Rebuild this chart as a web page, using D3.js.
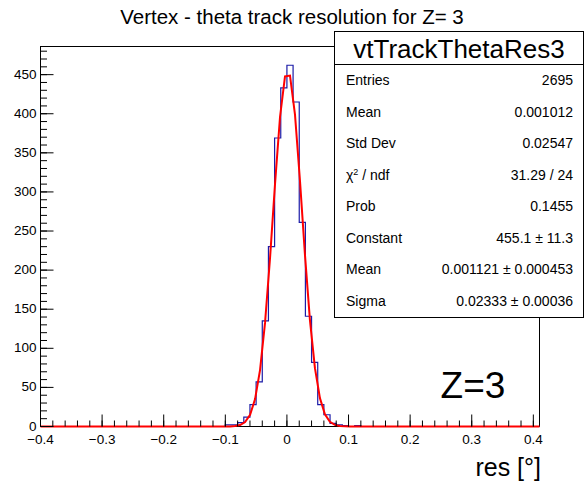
<!DOCTYPE html>
<html>
<head>
<meta charset="utf-8">
<script src="https://cdn.jsdelivr.net/npm/d3@7"></script>
<style>
  body { margin: 0; background: #fff; }
  text { font-family: "Liberation Sans", Arial, Helvetica, sans-serif; fill: #000; }
</style>
</head>
<body>
<script>
// histogram: bins of 0.01 from -0.40 to 0.41, only non-empty bins listed (lower edge -> count)
var binLow = [-0.10, -0.09, -0.08, -0.07, -0.06, -0.05, -0.04, -0.03, -0.02, -0.01,
              0.00, 0.01, 0.02, 0.03, 0.04, 0.05, 0.06, 0.07, 0.08, 0.09, 0.10, 0.11];
var counts = [2, 2, 5, 12, 28, 57, 135, 230, 369, 433,
              462, 415, 261, 141, 82, 28, 15, 4, 2, 1, 0, 1];

// gaussian fit parameters, as printed in the stat box
var fitConstant = [455.1];
var fitMean = [0.001121];
var fitSigma = [0.02333];

var xTicks = [-0.4, -0.3, -0.2, -0.1, 0, 0.1, 0.2, 0.3, 0.4];
var yTicks = [0, 50, 100, 150, 200, 250, 300, 350, 400, 450];

var statLabels = ["Entries", "Mean", "Std Dev", "χ2 / ndf", "Prob", "Constant", "Mean", "Sigma"];
var statValues = ["2695", "0.001012", "0.02547", "31.29 / 24", "0.1455",
                  "455.1 ± 11.3", "0.001121 ± 0.000453", "0.02333 ± 0.00036"];

var width = 585, height = 482;
var frame = {left: 40.5, right: 539.5, top: 46.5, bottom: 426.5};

var svg = d3.select('body').append('svg')
    .attr('width', width)
    .attr('height', height);

var x = d3.scaleLinear().domain([-0.4, 0.41]).range([frame.left, frame.right]);
var y = d3.scaleLinear().domain([0, 486]).range([frame.bottom, frame.top]);

// full bin list
var binW = 0.01;
var bins = [];
for (var i = 0; i < 81; i++) {
    var lo = Math.round((-0.4 + i * binW) * 100) / 100;
    var k = binLow.findIndex(function(b) { return Math.abs(b - lo) < 1e-6; });
    bins.push({lo: lo, hi: lo + binW, n: k >= 0 ? counts[k] : 0});
}

// frame
svg.append('rect')
    .attr('x', frame.left).attr('y', frame.top)
    .attr('width', frame.right - frame.left)
    .attr('height', frame.bottom - frame.top)
    .attr('fill', 'none').attr('stroke', '#000').attr('stroke-width', 1);

// histogram outline
var pts = [[x(bins[0].lo), y(0)]];
bins.forEach(function(b) {
    pts.push([x(b.lo), y(b.n)]);
    pts.push([x(b.hi), y(b.n)]);
});
pts.push([x(bins[bins.length - 1].hi), y(0)]);
svg.append('path')
    .attr('d', d3.line()(pts))
    .attr('fill', 'none')
    .attr('stroke', '#1c1ca8')
    .attr('stroke-width', 1.2);

// fit curve, 100 points like ROOT's default npx
var fitPts = d3.range(101).map(function(j) {
    var v = -0.4 + j * 0.81 / 100;
    var g = fitConstant[0] * Math.exp(-0.5 * Math.pow((v - fitMean[0]) / fitSigma[0], 2));
    return [x(v), y(g)];
});
svg.append('path')
    .attr('d', d3.line()(fitPts))
    .attr('fill', 'none')
    .attr('stroke', '#ff0000')
    .attr('stroke-width', 2);

// x axis ticks (inward)
var xMinor = d3.range(-0.4, 0.4101, 0.02);
svg.selectAll('.xminor').data(xMinor).enter().append('line')
    .attr('x1', function(d) { return x(d); }).attr('x2', function(d) { return x(d); })
    .attr('y1', frame.bottom).attr('y2', frame.bottom - 6)
    .attr('stroke', '#000');
svg.selectAll('.xmajor').data(xTicks).enter().append('line')
    .attr('x1', function(d) { return x(d); }).attr('x2', function(d) { return x(d); })
    .attr('y1', frame.bottom).attr('y2', frame.bottom - 12)
    .attr('stroke', '#000');
svg.selectAll('.xlab').data(xTicks).enter().append('text')
    .attr('x', function(d) { return x(d); })
    .attr('y', frame.bottom + 17)
    .attr('text-anchor', 'middle')
    .style('font-size', '13.5px')
    .text(function(d) { return d === 0 ? '0' : d3.format('.1f')(d).replace('-', '\u2212'); });

// y axis ticks (inward)
var yMinor = d3.range(0, 486, 10);
svg.selectAll('.yminor').data(yMinor).enter().append('line')
    .attr('y1', function(d) { return y(d); }).attr('y2', function(d) { return y(d); })
    .attr('x1', frame.left).attr('x2', frame.left + 6.5)
    .attr('stroke', '#000');
svg.selectAll('.ymajor').data(yTicks).enter().append('line')
    .attr('y1', function(d) { return y(d); }).attr('y2', function(d) { return y(d); })
    .attr('x1', frame.left).attr('x2', frame.left + 13)
    .attr('stroke', '#000');
svg.selectAll('.ylab').data(yTicks).enter().append('text')
    .attr('x', frame.left - 4)
    .attr('y', function(d) { return y(d) + 4; })
    .attr('text-anchor', 'end')
    .style('font-size', '13.5px')
    .text(function(d) { return d; });

// title
svg.append('text')
    .attr('x', 292).attr('y', 24)
    .attr('text-anchor', 'middle')
    .style('font-size', '20.5px')
    .text('Vertex - theta track resolution for Z= 3');

// axis title
svg.append('text')
    .attr('x', 541).attr('y', 476)
    .attr('text-anchor', 'end')
    .style('font-size', '25px')
    .text('res [°]');

// Z label
svg.append('text')
    .attr('x', 473).attr('y', 398)
    .attr('text-anchor', 'middle')
    .style('font-size', '37px')
    .text('Z=3');

// stat box
var box = {x: 334.5, y: 31.5, w: 249, h: 286};
svg.append('rect')
    .attr('x', box.x).attr('y', box.y)
    .attr('width', box.w).attr('height', box.h)
    .attr('fill', '#fff').attr('stroke', '#000');
svg.append('line')
    .attr('x1', box.x).attr('x2', box.x + box.w)
    .attr('y1', 64.5).attr('y2', 64.5)
    .attr('stroke', '#000');
svg.append('text')
    .attr('x', box.x + box.w / 2).attr('y', 58)
    .attr('text-anchor', 'middle')
    .style('font-size', '26px')
    .text('vtTrackThetaRes3');

var rowY = d3.scaleLinear().domain([0, 7]).range([85, 306]);
var rows = svg.selectAll('.row').data(statLabels).enter().append('g');
rows.append('text')
    .attr('x', 346)
    .attr('y', function(d, i) { return rowY(i); })
    .style('font-size', '14px')
    .each(function(d) {
        var t = d3.select(this);
        if (d.indexOf('χ2') === 0) {
            t.append('tspan').text('χ');
            t.append('tspan').attr('dy', -5).style('font-size', '9px').text('2');
            t.append('tspan').attr('dy', 5).text(' / ndf');
        } else {
            t.text(d);
        }
    });
rows.append('text')
    .attr('x', 573)
    .attr('y', function(d, i) { return rowY(i); })
    .attr('text-anchor', 'end')
    .style('font-size', '14px')
    .text(function(d, i) { return statValues[i]; });
</script>
</body>
</html>
